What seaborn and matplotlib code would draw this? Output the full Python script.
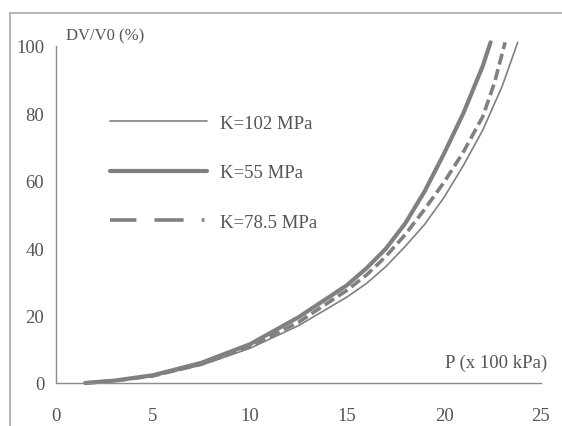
import matplotlib
matplotlib.use("Agg")
import matplotlib.pyplot as plt
from matplotlib.lines import Line2D
import seaborn as sns
import pandas as pd

# Data
p_55 = [1.5, 3, 5, 7.5, 10, 12.5, 15, 16, 17, 18, 19, 20, 21, 22, 22.4]
dv_55 = [0, 0.7, 2.3, 6, 11.5, 19.5, 29, 34, 39.8, 47.3, 56.8, 68, 80, 94, 101]

p_785 = [1.5, 3, 5, 7.5, 10, 12.5, 15, 16, 17, 18, 19, 20, 21, 22, 22.6, 23.15]
dv_785 = [0, 0.65, 2.1, 5.6, 10.8, 18, 27.5, 32, 37.5, 44, 51.5, 59.5, 68.5, 79, 89, 101]

p_102 = [1.5, 3, 5, 7.5, 10, 12.5, 15, 16, 17, 18, 19, 20, 21, 22, 23, 23.8]
dv_102 = [0, 0.6, 2.0, 5.3, 10.3, 17, 25.5, 29.5, 34.5, 40.5, 47, 55, 64.5, 75, 88, 101]

labels = ["K=102 MPa", "K=55 MPa", "K=78.5 MPa"]

sns.set_style("white")
plt.rcParams["font.family"] = ["Liberation Serif", "DejaVu Serif"]
plt.rcParams["lines.scale_dashes"] = False

fig = plt.figure(figsize=(5.62, 4.27), dpi=100)
ax = fig.add_axes([56 / 562, 43 / 427, 485 / 562, 337.3 / 427])

gray = "#808080"
txt = "#555555"
df102 = pd.DataFrame({"P": p_102, "DV": dv_102})
df55 = pd.DataFrame({"P": p_55, "DV": dv_55})
df785 = pd.DataFrame({"P": p_785, "DV": dv_785})

sns.lineplot(data=df102, x="P", y="DV", ax=ax, color=gray, lw=1.2, sort=False,
             estimator=None, legend=False, clip_on=False)
sns.lineplot(data=df55, x="P", y="DV", ax=ax, color=gray, lw=3.0, sort=False,
             estimator=None, legend=False, clip_on=False)
sns.lineplot(data=df785, x="P", y="DV", ax=ax, color=gray, lw=2.6, sort=False,
             estimator=None, legend=False, clip_on=False,
             linestyle=(0, (8, 3.5)))

ax.set_xlim(0, 25)
ax.set_ylim(0, 100)
ax.set_xticks([0, 5, 10, 15, 20, 25])
ax.set_yticks([0, 20, 40, 60, 80, 100])
ax.set_xlabel("")
ax.set_ylabel("")

for s in ["top", "right"]:
    ax.spines[s].set_visible(False)
for s in ["left", "bottom"]:
    ax.spines[s].set_color("#8c8c8c")
    ax.spines[s].set_linewidth(1.0)

ax.tick_params(axis="both", direction="inout", length=7, width=1.0,
               color="#8c8c8c", labelcolor=txt, labelsize=13.5)
ax.tick_params(axis="x", pad=14)
ax.tick_params(axis="y", pad=5)

ax.text(0.5, 103, "DV/V0 (%)", fontsize=12, color=txt,
        ha="left", va="center", clip_on=False)
ax.text(25.3, 6.2, "P (x 100 kPa)", fontsize=13.5, color=txt,
        ha="right", va="center", clip_on=False)

handles = [
    Line2D([], [], color=gray, lw=1.2),
    Line2D([], [], color=gray, lw=3.0),
    Line2D([], [], color=gray, lw=2.6, linestyle=(0, (19, 13, 21, 13, 2, 60))),
]
ax.legend(handles, labels, loc="upper left", bbox_to_anchor=(0.111, 0.795),
          frameon=False, fontsize=13.5, handlelength=5.2, handletextpad=0.65,
          labelspacing=1.72, borderpad=0, borderaxespad=0, labelcolor=txt)

# outer frame of the original figure
fig.add_artist(Line2D([10 / 562, 1], [1 - 14 / 427, 1 - 14 / 427],
                      color="#b0b0b0", lw=1.3, transform=fig.transFigure))
fig.add_artist(Line2D([10 / 562, 10 / 562], [0, 1 - 14 / 427],
                      color="#b0b0b0", lw=1.3, transform=fig.transFigure))

fig.savefig("out.png", dpi=100)
